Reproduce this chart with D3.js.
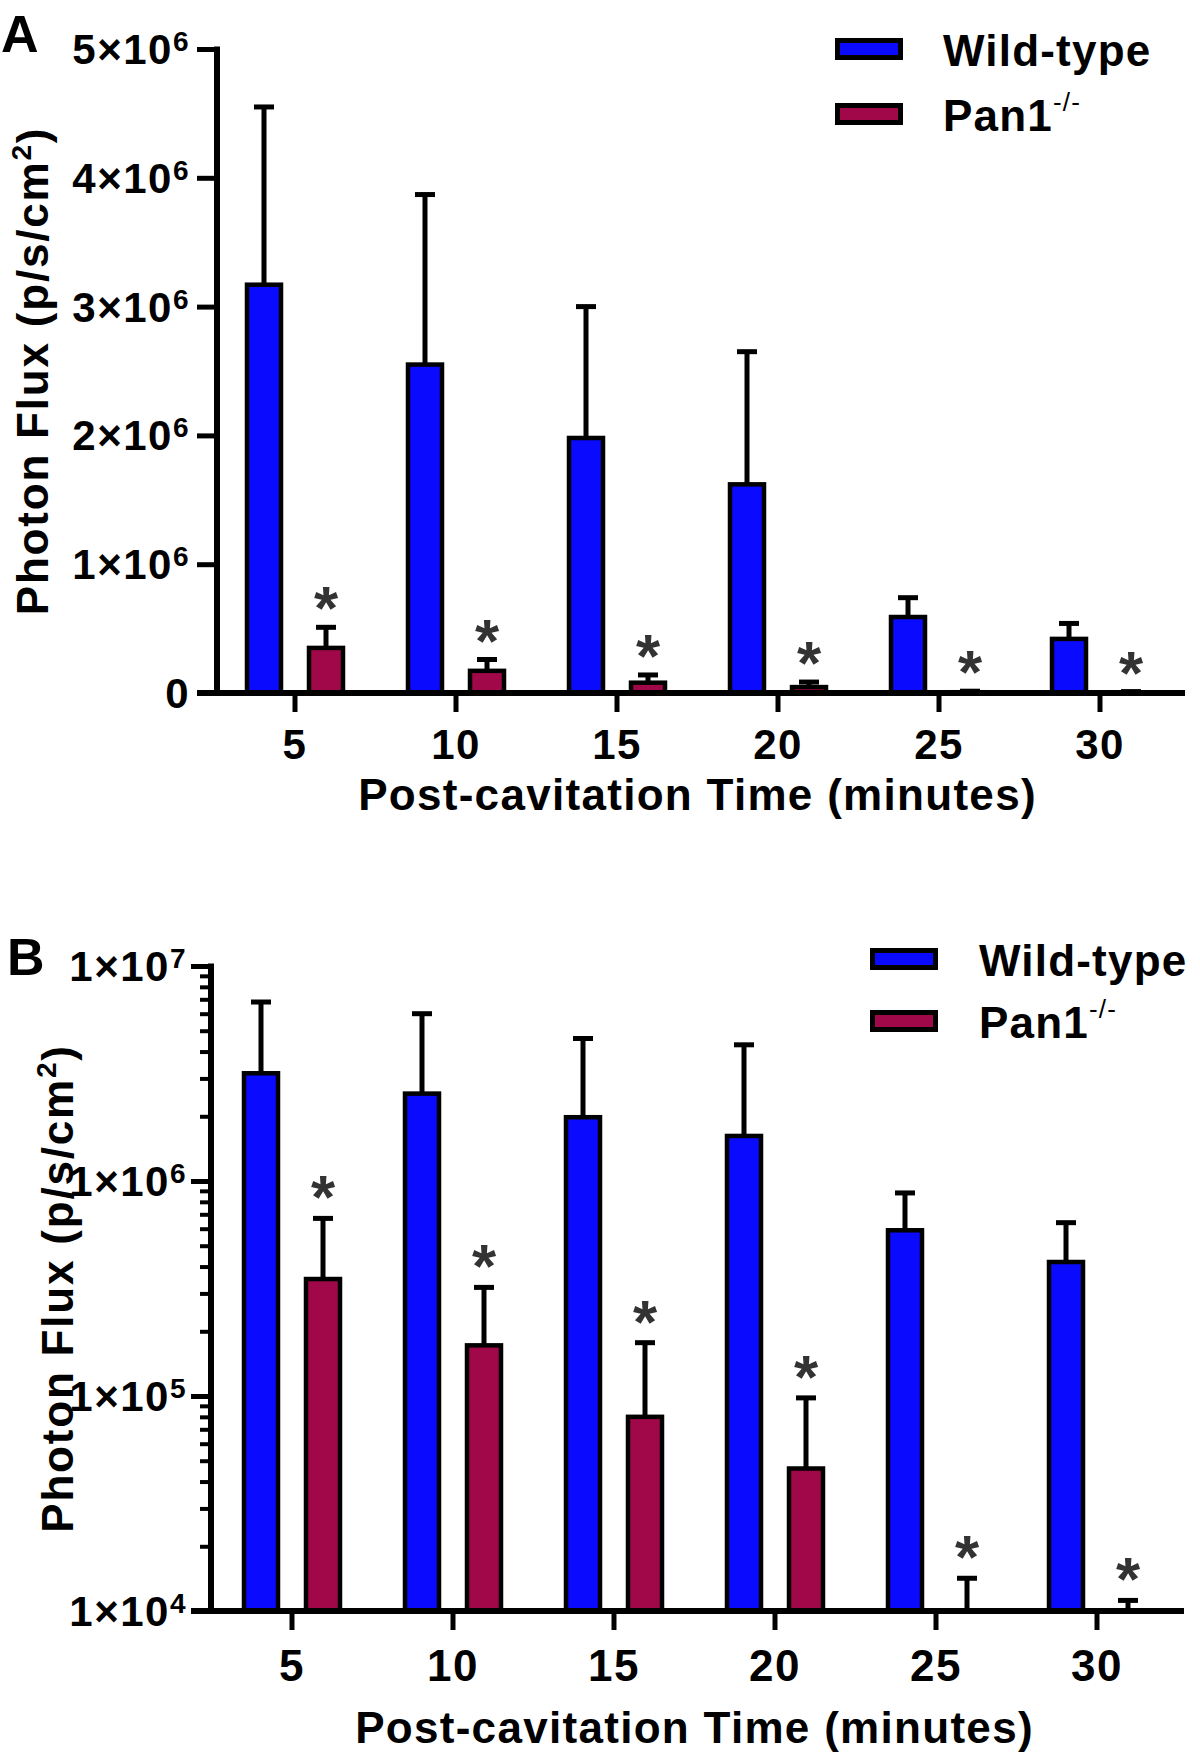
<!DOCTYPE html>
<html><head><meta charset="utf-8">
<script src="https://cdn.jsdelivr.net/npm/d3@7"></script>
<style>body{margin:0;background:#fff}svg{display:block}</style>
</head><body>
<svg id="chart" width="1200" height="1757"></svg>
<script>
// ---------- data ----------
const categories = ["5", "10", "15", "20", "25", "30"];
const seriesNames = ["Wild-type", "Pan1"];
const wildTypeMean = [3.17e6, 2.55e6, 1.98e6, 1.62e6, 5.9e5, 4.2e5];
const pan1Mean = [3.5e5, 1.72e5, 8.0e4, 4.6e4, 6.0e3, 5.0e3];
// upper ends of error bars, panel A (linear)
const wildTypeUpperA = [4.55e6, 3.87e6, 3.0e6, 2.65e6, 7.4e5, 5.4e5];
const pan1UpperA = [5.1e5, 2.6e5, 1.4e5, 8.5e4, 1.4e4, 1.1e4];
// upper ends of error bars, panel B (log)
const wildTypeUpperB = [6.8e6, 6.0e6, 4.6e6, 4.3e6, 8.8e5, 6.4e5];
const pan1UpperB = [6.7e5, 3.2e5, 1.77e5, 9.8e4, 1.42e4, 1.12e4];
const pan1Significant = [true, true, true, true, true, true];
const linearTicks = [0, 1e6, 2e6, 3e6, 4e6, 5e6];
const logTicks = [1e4, 1e5, 1e6, 1e7];
const xTitle = "Post-cavitation Time (minutes)";
const yTitleMain = "Photon Flux (p/s/cm";
const yTitleSup = "2";

// ---------- style ----------
const FONT = "'Liberation Sans', Arial, Helvetica, sans-serif";
const colors = {"Wild-type": "#0a0aff", "Pan1": "#a0084a"};
const svg = d3.select("#chart");

function drawPanel(p) {
  const g = svg.append("g");
  const x = d3.scaleBand().domain(categories)
    .range([p.firstTick - p.step / 2, p.firstTick + (categories.length - 0.5) * p.step]);
  const xs = d3.scaleBand().domain(seriesNames).range([-62, 62]);
  const y = (p.log ? d3.scaleLog().domain([1e4, 1e7]) : d3.scaleLinear().domain([0, 5e6]))
    .range([p.yBottom, p.yTop]).clamp(true);

  const rows = [];
  categories.forEach((c, i) => {
    rows.push({cat: c, s: "Wild-type", v: wildTypeMean[i], up: p.upWT[i], sig: false});
    rows.push({cat: c, s: "Pan1", v: pan1Mean[i], up: p.upPan[i], sig: pan1Significant[i]});
  });
  const cx = d => x(d.cat) + x.bandwidth() / 2 + xs(d.s) + xs.bandwidth() / 2;

  // error bars
  const eb = g.append("g").attr("stroke", "#000").attr("stroke-width", 5);
  eb.selectAll("line.v").data(rows).join("line")
    .attr("x1", cx).attr("x2", cx)
    .attr("y1", d => y(d.v)).attr("y2", d => y(d.up));
  eb.selectAll("line.c").data(rows).join("line")
    .attr("x1", d => cx(d) - 10).attr("x2", d => cx(d) + 10)
    .attr("y1", d => y(d.up)).attr("y2", d => y(d.up));

  // bars
  const bw = 34;
  g.append("g").selectAll("rect").data(rows.filter(d => p.yBottom - y(d.v) > 0.5)).join("rect")
    .attr("x", d => cx(d) - bw / 2).attr("width", bw)
    .attr("y", d => y(d.v)).attr("height", d => p.yBottom - y(d.v))
    .attr("fill", d => colors[d.s]).attr("stroke", "#000").attr("stroke-width", 4.5);

  // asterisks
  g.append("g").selectAll("text").data(rows.filter(d => d.sig)).join("text")
    .attr("x", cx).attr("y", d => y(d.up) - p.astGap + 33)
    .attr("text-anchor", "middle").attr("font-family", FONT).attr("font-weight", "bold")
    .attr("font-size", 62).attr("fill", "#333").text("*");

  // x axis
  const xa = g.append("g").attr("transform", `translate(0,${p.yBottom})`)
    .call(d3.axisBottom(x).tickSize(19).tickSizeOuter(0).tickFormat(""));
  xa.select(".domain").remove();
  xa.selectAll(".tick line").attr("stroke", "#000").attr("stroke-width", 5);
  g.append("line").attr("x1", p.yAxisX - 20).attr("x2", p.axisRight)
    .attr("y1", p.yBottom).attr("y2", p.yBottom).attr("stroke", "#000").attr("stroke-width", 6);
  g.append("g").selectAll("text").data(categories).join("text")
    .attr("x", d => x(d) + x.bandwidth() / 2).attr("y", p.yBottom + p.xLabelDy)
    .attr("text-anchor", "middle").attr("font-family", FONT).attr("font-weight", "bold")
    .attr("font-size", p.xLabelSize).attr("letter-spacing", 1.5).text(d => d);
  g.append("text").attr("x", x(categories[0]) + x.bandwidth() / 2 + (categories.length - 1) * p.step / 2)
    .attr("y", p.xTitleY).attr("text-anchor", "middle").attr("font-family", FONT)
    .attr("font-weight", "bold").attr("font-size", 44).attr("letter-spacing", 1.3).text(xTitle);

  // y axis
  const ya = g.append("g").attr("transform", `translate(${p.yAxisX},0)`)
    .call(d3.axisLeft(y).tickValues(p.log ? logTicks : linearTicks).tickSize(20).tickSizeOuter(0).tickFormat(""));
  ya.select(".domain").remove();
  ya.selectAll(".tick line").attr("stroke", "#000").attr("stroke-width", 5);
  if (p.log) {
    const minor = [];
    for (let e = 4; e < 7; e++) for (let m = 2; m <= 9; m++) minor.push(m * Math.pow(10, e));
    const ym = g.append("g").attr("transform", `translate(${p.yAxisX},0)`)
      .call(d3.axisLeft(y).tickValues(minor).tickSize(11).tickSizeOuter(0).tickFormat(""));
    ym.select(".domain").remove();
    ym.selectAll(".tick line").attr("stroke", "#000").attr("stroke-width", 4);
  }
  g.append("line").attr("x1", p.yAxisX).attr("x2", p.yAxisX)
    .attr("y1", p.yTop - 2.5).attr("y2", p.yBottom).attr("stroke", "#000").attr("stroke-width", 6);
  const tv = p.log ? logTicks : linearTicks;
  tv.forEach(v => {
    const t = g.append("text").attr("x", p.yAxisX - p.yLabelGap).attr("y", y(v) + 15)
      .attr("text-anchor", "end").attr("font-family", FONT).attr("font-weight", "bold")
      .attr("font-size", 42).attr("letter-spacing", 1.5);
    if (v === 0) { t.text("0"); return; }
    const e = Math.floor(Math.log10(v) + 1e-9);
    const m = Math.round(v / Math.pow(10, e));
    t.append("tspan").text(m + "×10");
    t.append("tspan").attr("dy", -13).attr("font-size", 28).text(e);
  });
  // y title
  const yt = g.append("text")
    .attr("transform", `translate(${p.yTitleX},${(p.yTop + p.yBottom) / 2}) rotate(-90)`)
    .attr("text-anchor", "middle").attr("font-family", FONT).attr("font-weight", "bold")
    .attr("font-size", 44).attr("letter-spacing", 1.8);
  yt.append("tspan").text(yTitleMain);
  yt.append("tspan").attr("dy", -17).attr("font-size", 28).text(yTitleSup);
  yt.append("tspan").attr("dy", 17).text(")");

  // panel letter
  g.append("text").attr("x", p.letterX).attr("y", p.letterY).attr("font-family", FONT)
    .attr("font-weight", "bold").attr("font-size", 52).text(p.letter);

  // legend
  seriesNames.forEach((s, i) => {
    const ly = p.legendY[i];
    g.append("rect").attr("x", p.legendX + 2.5).attr("y", ly + 2.5).attr("width", 63).attr("height", 17)
      .attr("fill", colors[s]).attr("stroke", "#000").attr("stroke-width", 5);
    const t = g.append("text").attr("x", p.legendTextX).attr("y", ly + 11 + 17)
      .attr("font-family", FONT).attr("font-weight", "bold").attr("font-size", 44).attr("letter-spacing", 1.2);
    t.append("tspan").text(s);
    if (s === "Pan1") {
      t.append("tspan").attr("dy", -20).attr("font-size", 26).attr("font-weight", "normal").text("-/-");
    }
  });
}

drawPanel({letter: "A", letterX: 1, letterY: 52, log: false,
  yAxisX: 217, yTop: 49, yBottom: 693, firstTick: 295, step: 161, axisRight: 1185,
  upWT: wildTypeUpperA, upPan: pan1UpperA, astGap: 31, yLabelGap: 27,
  xLabelDy: 66, xLabelSize: 42, xTitleY: 810, yTitleX: 48,
  legendX: 835, legendY: [38, 103], legendTextX: 943});

drawPanel({letter: "B", letterX: 7, letterY: 975, log: true,
  yAxisX: 211, yTop: 966, yBottom: 1611, firstTick: 292, step: 161, axisRight: 1184,
  upWT: wildTypeUpperB, upPan: pan1UpperB, astGap: 33, yLabelGap: 24,
  xLabelDy: 70, xLabelSize: 44, xTitleY: 1743, yTitleX: 73,
  legendX: 870, legendY: [948, 1010], legendTextX: 979});
</script>
</body></html>
